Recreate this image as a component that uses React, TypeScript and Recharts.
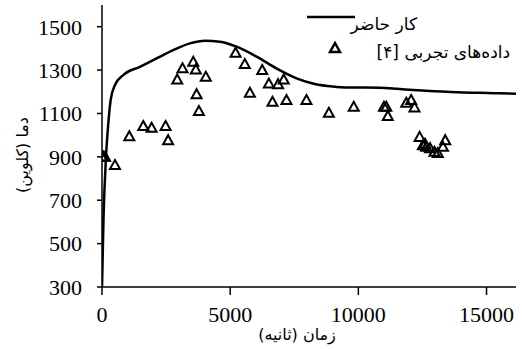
import { ComposedChart, Line, Scatter, XAxis, YAxis } from 'recharts'

// present work (کار حاضر) — time (s) vs temperature (K)
const curveTime = [0, 60, 156, 246, 338, 506, 830, 1480, 2130, 2780, 3430, 4010, 4600, 5250, 6030, 6800, 7590, 8300, 9000, 9530, 10200, 10830, 11500, 12130, 12800, 13430, 14100, 14730, 15500, 16150]
const curveTemp = [300, 620, 900, 1054, 1162, 1231, 1277, 1315, 1354, 1392, 1423, 1435, 1431, 1408, 1362, 1308, 1262, 1236, 1224, 1220, 1220, 1219, 1214, 1208, 1203, 1200, 1197, 1195, 1193, 1191]

// experimental data [4]
const expTime = [0, 60, 120, 506, 1065, 1610, 1935, 2480, 2580, 2935, 3140, 3560, 3660, 3690, 3780, 4050, 5210, 5570, 5770, 6250, 6510, 6650, 6870, 7090, 7195, 7975, 8850, 9820, 11000, 11090, 11150, 11870, 12060, 12190, 12390, 12520, 12600, 12650, 12800, 12970, 13100, 13300, 13390]
const expTemp = [900, 900, 900, 862, 995, 1042, 1034, 1042, 977, 1257, 1308, 1338, 1303, 1189, 1111, 1269, 1380, 1328, 1195, 1300, 1238, 1154, 1235, 1257, 1162, 1162, 1103, 1131, 1131, 1131, 1088, 1149, 1162, 1128, 992, 954, 960, 946, 940, 923, 918, 946, 977]

const xTicks = [0, 5000, 10000, 15000]
const yTicks = [300, 500, 700, 900, 1100, 1300, 1500]

const curveData = curveTime.map((t, i) => ({ t, T: curveTemp[i] }))
const expData = expTime.map((t, i) => ({ t, T: expTemp[i] }))

const persian = '"DejaVu Sans", sans-serif'
const serif = '"Liberation Serif", "Times New Roman", serif'

const Triangle = (props: any) => {
  const { cx, cy } = props
  if (cx == null || cy == null) return null
  return (
    <polygon
      points={`${cx},${cy - 5} ${cx + 5},${cy + 4} ${cx - 5},${cy + 4}`}
      fill="none"
      stroke="#000"
      strokeWidth={2}
    />
  )
}

export default function App() {
  return (
    <div style={{ position: 'relative', width: 522, height: 349, background: '#fff' }}>
      <style>{'body{margin:0}'}</style>
      <ComposedChart width={522} height={349} margin={{ top: 5, right: 6, bottom: 0, left: 0 }}>
        <XAxis
          type="number"
          dataKey="t"
          domain={[0, 16150]}
          ticks={xTicks}
          allowDataOverflow
          height={62}
          stroke="#000"
          strokeWidth={1.5}
          tickSize={8}
          tick={{ fill: '#000', fontSize: 22, fontFamily: serif }}
          tickMargin={11}
        />
        <YAxis
          type="number"
          dataKey="T"
          domain={[300, 1600]}
          ticks={yTicks}
          allowDataOverflow
          width={102}
          stroke="#000"
          strokeWidth={1.5}
          tickSize={5}
          tick={{ fill: '#000', fontSize: 22, fontFamily: serif }}
          tickMargin={15}
        />
        <Line
          data={curveData}
          dataKey="T"
          type="monotone"
          stroke="#000"
          strokeWidth={2.5}
          dot={false}
          isAnimationActive={false}
        />
        <Scatter data={expData} dataKey="T" shape={Triangle} isAnimationActive={false} />
      </ComposedChart>

      {/* axis titles */}
      <div
        style={{
          position: 'absolute',
          left: 22,
          top: 155,
          transform: 'translate(-50%, -50%) rotate(-90deg)',
          fontFamily: persian,
          fontSize: 16,
          whiteSpace: 'nowrap',
          direction: 'rtl',
        }}
      >
        دما (کلوین)
      </div>
      <div
        style={{
          position: 'absolute',
          left: 297,
          top: 334,
          transform: 'translate(-50%, -50%)',
          fontFamily: persian,
          fontSize: 16,
          whiteSpace: 'nowrap',
          direction: 'rtl',
        }}
      >
        زمان (ثانیه)
      </div>

      {/* legend */}
      <svg style={{ position: 'absolute', left: 0, top: 0 }} width={522} height={70}>
        <line x1={307} y1={17} x2={355} y2={17} stroke="#000" strokeWidth={2.5} />
        <polygon points="335,43 340,52 330,52" fill="none" stroke="#000" strokeWidth={2.5} />
      </svg>
      <div
        style={{
          position: 'absolute',
          right: 522 - 417,
          top: 24,
          transform: 'translateY(-50%)',
          fontFamily: persian,
          fontSize: 17,
          whiteSpace: 'nowrap',
          direction: 'rtl',
        }}
      >
        کار حاضر
      </div>
      <div
        style={{
          position: 'absolute',
          right: 522 - 510,
          top: 52,
          transform: 'translateY(-50%)',
          fontFamily: persian,
          fontSize: 17,
          whiteSpace: 'nowrap',
          direction: 'rtl',
        }}
      >
        داده‌های تجربی [۴]
      </div>
    </div>
  )
}
